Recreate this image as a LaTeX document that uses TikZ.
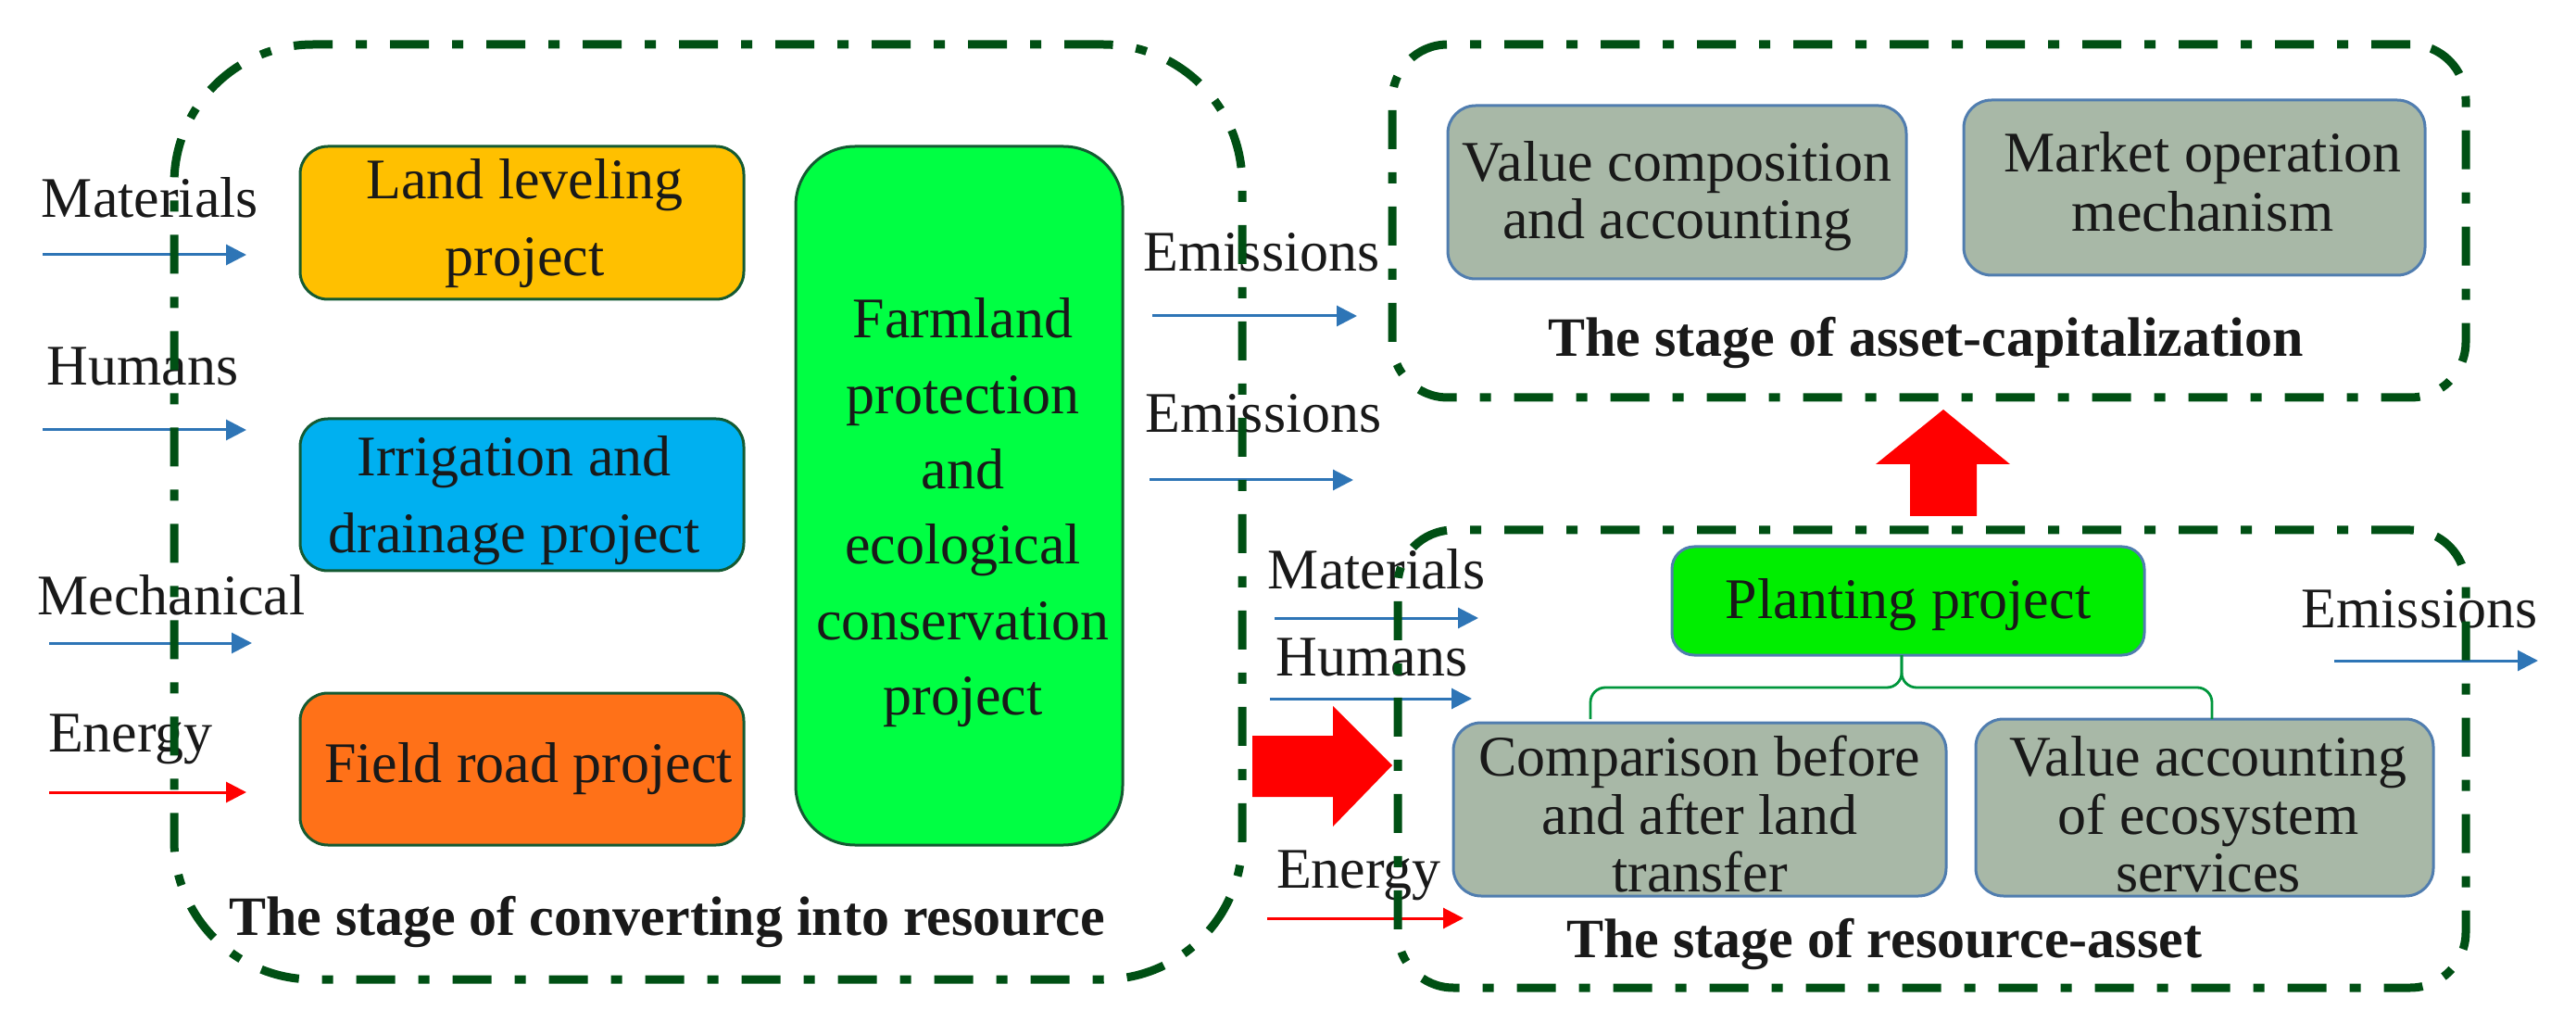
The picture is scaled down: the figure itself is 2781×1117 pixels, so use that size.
\documentclass[tikz,border=0pt]{standalone}
\usepackage{fontspec}
\setmainfont{Liberation Serif}
\usetikzlibrary{arrows.meta}
\definecolor{framegreen}{RGB}{0,80,20}
\definecolor{flowblue}{RGB}{46,117,182}
\definecolor{greybox}{RGB}{168,184,167}
\definecolor{greyedge}{RGB}{80,125,175}
\definecolor{darkedge}{RGB}{20,90,50}
\definecolor{bracegreen}{RGB}{0,150,60}
% #1 x shift, #2 y shift (pt), #3 line spacing (pt), #4 lines
\newcommand{\boxtxt}[4]{\raisebox{\dimexpr #2pt-7.75pt\relax}[0pt][0pt]{\makebox[0pt]{\kern #1pt\kern #1pt\fontsize{31}{#3pt}\selectfont\begin{tabular}[c]{@{}c@{}}#4\end{tabular}}}}
\tikzset{
  x=0.5pt,y=-0.5pt,
  sz/.style 2 args={minimum width=#1*0.5pt,minimum height=#2*0.5pt,inner sep=0pt,outer sep=0pt},
  txt/.style={font=\fontsize{31}{31}\selectfont,text=black!90},
  lab/.style={txt,anchor=base,inner sep=0pt},
  stage/.style={font=\fontsize{30}{30}\selectfont\bfseries,text=black!90,anchor=base,inner sep=0pt},
  proj/.style={draw=darkedge,line width=1.5pt,rounded corners=15pt,txt},
  val/.style={draw=greyedge,line width=1.5pt,fill=greybox,rounded corners=15pt,txt},
  stageframe/.style={draw=framegreen,line width=4.5pt,dash pattern=on 21pt off 12.5pt on 6pt off 12.5pt,inner sep=0pt,outer sep=0pt},
  flowin/.style={draw=flowblue,line width=1.5pt,-{Triangle[length=11pt,width=11pt]}},
  flowred/.style={draw=red,line width=1.5pt,-{Triangle[length=11pt,width=11pt]}},
  bigarrow/.style={fill=red,draw=none},
  brace/.style={draw=bracegreen,line width=1.4pt,rounded corners=8pt},
}
\begin{document}
\begin{tikzpicture}
\useasboundingbox (0,0) rectangle (2781,1117);
% labels and flows (below the frames)
\node[lab] (lmat) at (162,235) {Materials};
\node[lab] (lhum) at (154,416) {Humans};
\node[lab] (lmec) at (185,663) {Mechanical};
\node[lab] (lene) at (141,811) {Energy};
\node[lab] (lem1) at (1362,293) {Emissions};
\node[lab] (lem2) at (1364,467) {Emissions};
\node[lab] (lmat2) at (1486,636) {Materials};
\node[lab] (lhum2) at (1481,729) {Humans};
\node[lab] (lene2) at (1467,958) {Energy};
\node[lab] (lem3) at (2612,677) {Emissions};
\coordinate (a1s) at (46,275);  \coordinate (a1e) at (266,275);
\coordinate (a2s) at (46,464);  \coordinate (a2e) at (266,464);
\coordinate (a3s) at (53,694);  \coordinate (a3e) at (272,694);
\coordinate (a4s) at (53,855);  \coordinate (a4e) at (266,855);
\coordinate (a5s) at (1244,341); \coordinate (a5e) at (1465,341);
\coordinate (a6s) at (1241,518); \coordinate (a6e) at (1461,518);
\coordinate (a7s) at (1376,667); \coordinate (a7e) at (1596,667);
\coordinate (a8s) at (1371,754); \coordinate (a8e) at (1589,754);
\coordinate (a9s) at (1368,991); \coordinate (a9e) at (1580,991);
\coordinate (a10s) at (2520,713); \coordinate (a10e) at (2740,713);
\draw[flowin] (a1s) -- (a1e);
\draw[flowin] (a2s) -- (a2e);
\draw[flowin] (a3s) -- (a3e);
\draw[flowred] (a4s) -- (a4e);
\draw[flowin] (a5s) -- (a5e);
\draw[flowin] (a6s) -- (a6e);
\draw[flowin] (a7s) -- (a7e);
\draw[flowin] (a8s) -- (a8e);
\draw[flowred] (a9s) -- (a9e);
\draw[flowin] (a10s) -- (a10e);
% big red arrows
\fill[bigarrow] (1352,794) -- (1439,794) -- (1439,762) -- (1503,826) -- (1439,892) -- (1439,860) -- (1352,860) -- cycle;
\fill[bigarrow] (2098,442) -- (2170,501) -- (2134,501) -- (2134,557) -- (2062,557) -- (2062,501) -- (2025,501) -- cycle;
% stage frames
\node[stageframe,rounded corners=75pt,sz={1153}{1009}] (frameA) at (764.5,552.5) {};
\node[stageframe,rounded corners=30pt,sz={1159}{381}] (frameB) at (2082.5,238.5) {};
\node[stageframe,rounded corners=30pt,sz={1153}{494}] (frameC) at (2085.5,819) {};
% project boxes
\node[proj,fill={rgb,255:red,255;green,192;blue,0},sz={479}{165}] (land) at (563.5,240.5) {\boxtxt{1.5}{2}{41.5}{Land leveling\\project}};
\node[proj,fill={rgb,255:red,0;green,176;blue,240},sz={479}{164}] (irr) at (563.5,534) {\boxtxt{-4.2}{-0.75}{41.5}{Irrigation and\\drainage project}};
\node[proj,fill={rgb,255:red,255;green,113;blue,24},sz={479}{164}] (road) at (563.5,830) {\boxtxt{3.5}{2.8}{41.5}{Field road project}};
\node[proj,fill={rgb,255:red,0;green,255;blue,67},rounded corners=32pt,sz={353}{754}] (farm) at (1035.5,535) {\boxtxt{2}{-6.9}{40.7}{Farmland\\protection\\and\\ecological\\conservation\\project}};
\node[val,sz={495}{187}] (valcomp) at (1810.5,207.5) {\boxtxt{0}{-1.7}{31}{Value composition\\and accounting}};
\node[val,sz={498}{189}] (market) at (2369,202.5) {\boxtxt{4.5}{0.65}{32}{Market operation\\mechanism}};
\node[proj,draw=greyedge,fill={rgb,255:red,0;green,238;blue,0},rounded corners=12pt,sz={510}{117}] (plant) at (2060,648.5) {\boxtxt{0}{0.3}{41.5}{Planting project}};
\node[val,sz={532}{187}] (compare) at (1835,873.5) {\boxtxt{0}{-5.55}{31}{Comparison before\\and after land\\transfer}};
\node[val,sz={494}{191}] (ecosys) at (2380,871.5) {\boxtxt{2}{-6.55}{31}{Value accounting\\of ecosystem\\services}};
% brace
\coordinate (bl) at (1717,776);
\coordinate (br) at (2388,776);
\coordinate (bm) at ([xshift=-3.5pt]plant.south);
\draw[brace] (bl) |- ++(336,-34) -- (bm);
\draw[brace] (br) |- ++(-335,-34) -- (bm);
% stage titles
\node[stage] (tA) at (720,1009) {The stage of converting into resource};
\node[stage] (tB) at (2079,385) {The stage of asset-capitalization};
\node[stage] (tC) at (2034,1033) {The stage of resource-asset};
\end{tikzpicture}
\end{document}
